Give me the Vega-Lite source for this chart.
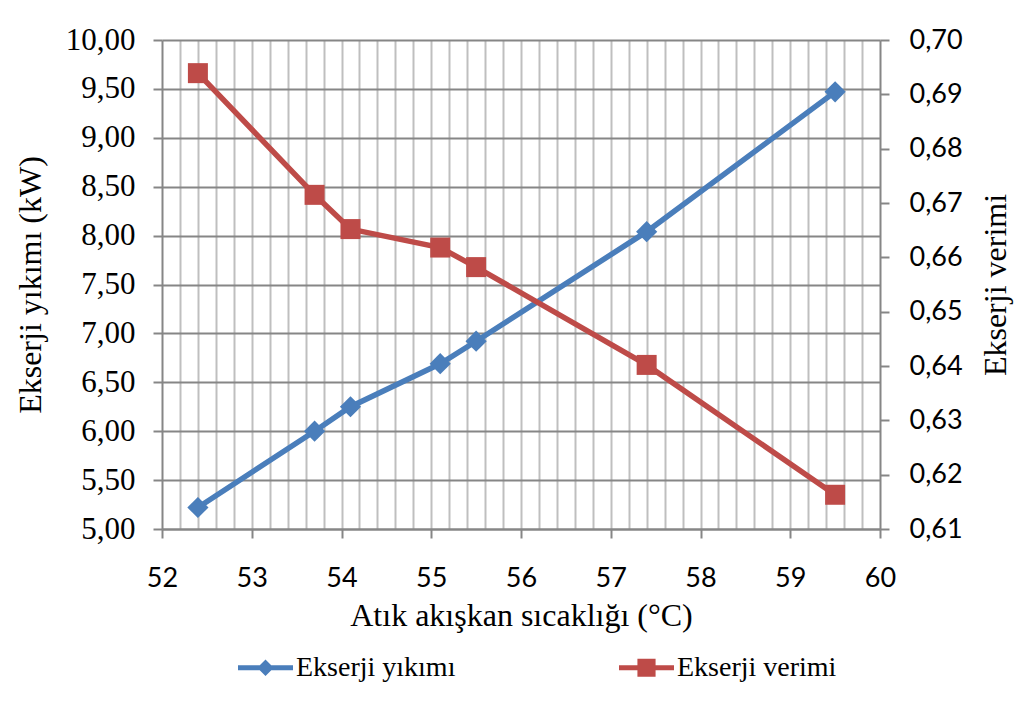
{
  "$schema": "https://vega.github.io/schema/vega-lite/v6.json",
  "width": 718,
  "height": 489,
  "autosize": {"type": "none"},
  "padding": {"left": 162, "top": 40, "right": 137, "bottom": 189},
  "background": "white",
  "config": {
    "view": {"stroke": null},
    "axis": {"domainColor": "#868686", "domainWidth": 2, "tickColor": "#868686", "tickWidth": 2, "tickSize": 9, "labelColor": "#000000", "titleColor": "#000000", "titleFontWeight": "normal"}
  },
  "data": {
    "values": [
      {"sicaklik": 52.4, "yikim": 5.22, "verim": 0.6939},
      {"sicaklik": 53.7, "yikim": 6.00, "verim": 0.6715},
      {"sicaklik": 54.1, "yikim": 6.25, "verim": 0.6652},
      {"sicaklik": 55.1, "yikim": 6.69, "verim": 0.6618},
      {"sicaklik": 55.5, "yikim": 6.92, "verim": 0.6582},
      {"sicaklik": 57.4, "yikim": 8.04, "verim": 0.6402},
      {"sicaklik": 59.5, "yikim": 9.47, "verim": 0.6163}
    ]
  },
  "layer": [
    {
      "layer": [
        {
          "mark": {"type": "line", "strokeWidth": 5.5, "color": "#4A7EBB"},
          "encoding": {
            "x": {"field": "sicaklik", "type": "quantitative", "scale": {"domain": [52, 60], "nice": false, "zero": false},
              "axis": {"orient": "bottom", "tickCount": 100,
                "values": [52,52.2,52.4,52.6,52.8,53,53.2,53.4,53.6,53.8,54,54.2,54.4,54.6,54.8,55,55.2,55.4,55.6,55.8,56,56.2,56.4,56.6,56.8,57,57.2,57.4,57.6,57.8,58,58.2,58.4,58.6,58.8,59,59.2,59.4,59.6,59.8,60],
                "labelExpr": "datum.value % 1 === 0 ? format(datum.value, 'd') : ''",
                "tickOpacity": {"condition": {"test": "datum.value % 1 === 0", "value": 1}, "value": 0},
                "grid": true, "gridColor": "#BFBFBF", "gridWidth": 2,
                "gridOpacity": {"condition": {"test": "datum.value === 52 || datum.value === 60", "value": 0}, "value": 1},
                "labelFont": "Lato", "labelFontSize": 27, "labelPadding": 27, "labelFlush": false, "labelOverlap": false,
                "title": "Atık akışkan sıcaklığı (°C)", "titleFont": "Liberation Serif", "titleFontSize": 32, "titlePadding": 9}},
            "y": {"field": "yikim", "type": "quantitative", "scale": {"domain": [5, 10], "nice": false, "zero": false},
              "axis": {"orient": "left", "tickCount": 20, "values": [5,5.5,6,6.5,7,7.5,8,8.5,9,9.5,10], "labelExpr": "replace(format(datum.value, '.2f'), '.', ',')",
                "grid": true, "gridColor": "#868686", "gridWidth": 2, "labelFont": "Liberation Serif", "labelFontSize": 31, "labelPadding": 18,
                "title": "Ekserji yıkımı (kW)", "titleFont": "Liberation Serif", "titleFontSize": 32, "titlePadding": 18}},
            "color": {"datum": "Ekserji yıkımı", "type": "nominal",
              "scale": {"domain": ["Ekserji yıkımı", "Ekserji verimi"], "range": ["#4A7EBB", "#BE4B48"]},
              "legend": {"orient": "none", "legendX": 76, "legendY": 600, "direction": "horizontal", "title": null,
                "labelFont": "Liberation Serif", "labelFontSize": 28, "labelColor": "#000000",
                "symbolSize": 3025, "columnPadding": 163, "labelOffset": 3, "labelLimit": 400,
                "encode": {"symbols": {"update": {
                  "shape": {"signal": "datum.value === 'Ekserji yıkımı' ? 'M-1,-0.09H1V0.09H-1Z M0,-0.3L0.3,0L0,0.3L-0.3,0Z' : 'M-1,-0.09H1V0.09H-1Z M-0.33,-0.33H0.33V0.33H-0.33Z'"},
                  "fill": {"signal": "datum.value === 'Ekserji yıkımı' ? '#4A7EBB' : '#BE4B48'"},
                  "fillOpacity": {"value": 1},
                  "strokeWidth": {"value": 0}
                }}}}}
          }
        },
        {
          "mark": {"type": "point", "shape": "diamond", "filled": true, "size": 450, "opacity": 1, "color": "#4A7EBB"},
          "encoding": {
            "x": {"field": "sicaklik", "type": "quantitative"},
            "y": {"field": "yikim", "type": "quantitative"}
          }
        }
      ]
    },
    {
      "layer": [
        {
          "mark": {"type": "line", "strokeWidth": 5.5, "color": "#BE4B48"},
          "encoding": {
            "x": {"field": "sicaklik", "type": "quantitative"},
            "y": {"field": "verim", "type": "quantitative", "scale": {"domain": [0.61, 0.70], "nice": false, "zero": false},
              "axis": {"orient": "right", "tickCount": 20, "values": [0.61,0.62,0.63,0.64,0.65,0.66,0.67,0.68,0.69,0.70], "labelExpr": "replace(format(datum.value, '.2f'), '.', ',')",
                "grid": false, "labelFont": "Lato", "labelFontSize": 27, "labelPadding": 20,
                "title": "Ekserji verimi", "titleFont": "Liberation Serif", "titleFontSize": 32, "titlePadding": 18, "titleAngle": 270, "titleBaseline": "top"}},
            "color": {"datum": "Ekserji verimi", "type": "nominal"}
          }
        },
        {
          "mark": {"type": "square", "size": 400, "opacity": 1, "color": "#BE4B48"},
          "encoding": {
            "x": {"field": "sicaklik", "type": "quantitative"},
            "y": {"field": "verim", "type": "quantitative"}
          }
        }
      ]
    }
  ],
  "resolve": {"scale": {"y": "independent"}}
}
